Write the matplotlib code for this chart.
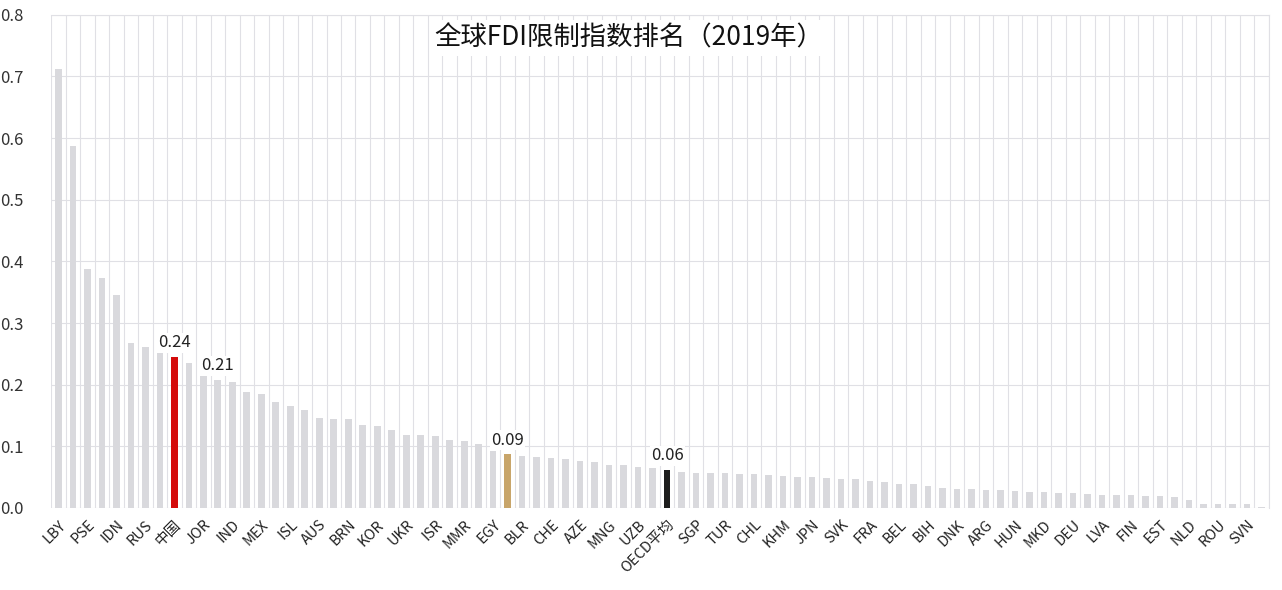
import matplotlib
matplotlib.use('Agg')
import matplotlib.pyplot as plt

plt.rcParams['font.family'] = ['Noto Sans CJK SC', 'DejaVu Sans']

# tick labels shown under every other bar; the odd bars carry no label
shown_labels = ['LBY', 'PSE', 'IDN', 'RUS', '中国', 'JOR', 'IND', 'MEX', 'ISL', 'AUS',
                'BRN', 'KOR', 'UKR', 'ISR', 'MMR', 'EGY', 'BLR', 'CHE', 'AZE', 'MNG',
                'UZB', 'OECD平均', 'SGP', 'TUR', 'CHL', 'KHM', 'JPN', 'SVK', 'FRA', 'BEL',
                'BIH', 'DNK', 'ARG', 'HUN', 'MKD', 'DEU', 'LVA', 'FIN', 'EST', 'NLD',
                'ROU', 'SVN']

values = [0.712, 0.587, 0.388, 0.373, 0.345, 0.267, 0.261, 0.252, 0.245, 0.235,
          0.220, 0.208, 0.205, 0.188, 0.185, 0.172, 0.165, 0.159, 0.146, 0.145,
          0.144, 0.134, 0.133, 0.127, 0.119, 0.118, 0.116, 0.111, 0.108, 0.103,
          0.092, 0.087, 0.085, 0.083, 0.081, 0.080, 0.076, 0.075, 0.070, 0.070,
          0.067, 0.065, 0.062, 0.059, 0.057, 0.057, 0.057, 0.055, 0.055, 0.053,
          0.052, 0.051, 0.050, 0.049, 0.047, 0.047, 0.043, 0.042, 0.039, 0.039,
          0.035, 0.033, 0.031, 0.030, 0.029, 0.029, 0.028, 0.0265, 0.0265, 0.025,
          0.024, 0.023, 0.0215, 0.021, 0.021, 0.020, 0.020, 0.018, 0.013, 0.0065,
          0.0065, 0.006, 0.0065, 0.001]

# highlighted bars: index -> (colour, label text)
highlights = {8: ('#d40b0b', '0.24'), 31: ('#c8a56a', '0.09'), 42: ('#1c1c1c', '0.06')}
extra_labels = {11: '0.21'}

labels = []
for i in range(len(values)):
    labels.append(shown_labels[i // 2] if i % 2 == 0 else '')

fig = plt.figure(figsize=(12.82, 5.90), dpi=100)
ax = fig.add_axes([0.0398, 0.139, 0.950, 0.836])

colors = ['#d9d9dd'] * len(values)
for i, (c, _) in highlights.items():
    colors[i] = c

x = list(range(len(values)))
ax.bar(x, values, width=0.45, color=colors, zorder=3)

point_labels = {i: txt for i, (_, txt) in highlights.items()}
point_labels.update(extra_labels)
for i, txt in point_labels.items():
    ax.text(i, values[i] + 0.009, txt, ha='center', va='bottom', fontsize=12,
            color='#222222', zorder=4,
            bbox=dict(facecolor='white', edgecolor='none', pad=1))

ax.set_xlim(-0.5, len(values) - 0.5)
ax.set_ylim(0, 0.8)
ax.set_yticks([i / 10 for i in range(9)])
ax.set_yticklabels(['%.1f' % (i / 10) for i in range(9)], fontsize=12, color='#333333')

ax.set_xticks(x)
ax.set_xticklabels(labels, rotation=45, ha='right', rotation_mode='anchor',
                   fontsize=10.5, color='#222222')
ax.tick_params(axis='both', length=0)
ax.tick_params(axis='y', pad=20)
ax.tick_params(axis='x', pad=7)

# vertical grid lines at category boundaries
for b in range(len(values) + 1):
    ax.axvline(b - 0.5, color='#e0e0e5', linewidth=0.8, zorder=1)
ax.yaxis.grid(True, color='#e0e0e5', linewidth=0.8, zorder=1)

for side in ['left', 'bottom']:
    ax.spines[side].set_visible(False)
for side in ['top', 'right']:
    ax.spines[side].set_color('#e0e0e5')

ax.text(0.474, 0.953, '全球FDI限制指数排名（2019年）', transform=ax.transAxes,
        ha='center', va='center', fontsize=19, color='#111111', zorder=2,
        bbox=dict(facecolor='white', edgecolor='none', pad=3))

fig.savefig('out.png', dpi=100, facecolor='white')
